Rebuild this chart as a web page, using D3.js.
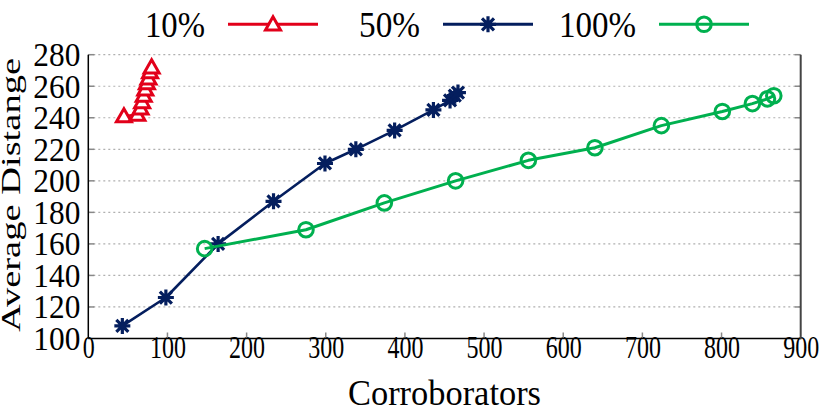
<!DOCTYPE html>
<html>
<head>
<meta charset="utf-8">
<script src="https://cdn.jsdelivr.net/npm/d3@7"></script>
<style>
  html, body { margin: 0; padding: 0; background: #fff; }
  svg { display: block; }
  text { font-family: "Liberation Serif", "DejaVu Serif", serif; fill: #000; }
</style>
</head>
<body>
<svg id="chart" width="830" height="407"></svg>
<script>
// ---- data ----
const xTicks = [0, 100, 200, 300, 400, 500, 600, 700, 800, 900];
const yTicks = [100, 120, 140, 160, 180, 200, 220, 240, 260, 280];
const seriesNames = ["10%", "50%", "100%"];
const series10 = [[45, 241], [62, 242], [66, 246], [68, 250], [70, 254], [72, 258], [74, 262], [76, 265], [78, 269], [80, 272]];
const series50 = [[43, 108], [98, 126], [164, 160], [234, 187], [299, 211], [338, 220], [387, 232], [436, 245], [457, 251], [463, 254], [467, 256]];
const series100 = [[147, 157], [275, 169], [374, 186], [464, 200], [556, 213], [640, 221], [724, 235], [801, 244], [839, 249], [858, 252], [866, 254]];
const xLabel = "Corroborators";
const yLabel = "Average Distange";

// ---- layout ----
const L = 88.3, R = 800.7, T = 54.7, B = 338.5;
const colors = ["#e2001a", "#041e5e", "#00b04f"];
const markers = ["triangle", "asterisk", "circle"];
const allSeries = [series10, series50, series100];

const svg = d3.select("#chart");
const x = d3.scaleLinear().domain([0, 900]).range([L, R]);
const y = d3.scaleLinear().domain([100, 280]).range([B, T]);

// grid lines
svg.append("g").selectAll("line")
  .data(yTicks.filter(v => v > 100))
  .join("line")
  .attr("x1", L).attr("x2", R)
  .attr("y1", d => y(d)).attr("y2", d => y(d))
  .attr("stroke", "#b0b0b0").attr("stroke-width", 1.2)
  .attr("stroke-dasharray", "2,3");

// axes
const yAxis = d3.axisLeft(y).tickValues(yTicks).tickSize(0).tickPadding(8);
const gy = svg.append("g").attr("transform", `translate(${L},0)`).call(yAxis);
gy.select(".domain").remove();
gy.selectAll("text").attr("font-size", 33).attr("dy", "0.33em")
  .style("font-family", '"Liberation Serif", serif')
  .attr("textLength", 47).attr("lengthAdjust", "spacingAndGlyphs");

const xAxis = d3.axisBottom(x).tickValues(xTicks).tickSize(0).tickPadding(0);
const gx = svg.append("g").attr("transform", `translate(0,${B})`).call(xAxis);
gx.select(".domain").remove();
gx.selectAll("text").attr("font-size", 31).attr("dy", 0).attr("y", 19)
  .style("font-family", '"Liberation Serif", serif')
  .each(function(d) {
    const n = String(d).length;
    d3.select(this).attr("textLength", n * 12).attr("lengthAdjust", "spacingAndGlyphs");
  });

// inward ticks
const tickG = svg.append("g").attr("stroke", "#888").attr("stroke-width", 1.5);
tickG.selectAll(".ty").data(yTicks.filter(v => v > 100)).join("line")
  .attr("x1", L).attr("x2", L + 6).attr("y1", d => y(d)).attr("y2", d => y(d));
tickG.selectAll(".tr").data(yTicks.filter(v => v > 100)).join("line")
  .attr("x1", R - 6).attr("x2", R).attr("y1", d => y(d)).attr("y2", d => y(d));
tickG.selectAll(".tx").data(xTicks.filter(v => v > 0 && v < 900)).join("line")
  .attr("x1", d => x(d)).attr("x2", d => x(d)).attr("y1", B).attr("y2", B - 6);

// border lines
svg.append("line").attr("x1", L).attr("x2", L).attr("y1", T).attr("y2", B)
  .attr("stroke", "#000").attr("stroke-width", 1.5);
svg.append("line").attr("x1", L).attr("x2", R).attr("y1", B).attr("y2", B)
  .attr("stroke", "#000").attr("stroke-width", 1.5);
svg.append("line").attr("x1", R).attr("x2", R).attr("y1", T).attr("y2", B + 0.75)
  .attr("stroke", "#444").attr("stroke-width", 2);

// marker drawing
function drawMarker(g, type, cx, cy, color) {
  if (type === "triangle") {
    const s = 7.5;
    g.append("path")
      .attr("d", `M${cx},${cy - s}L${cx + s},${cy + s * 0.75}L${cx - s},${cy + s * 0.75}Z`)
      .attr("fill", "#fff").attr("stroke", color).attr("stroke-width", 3)
      .attr("stroke-linejoin", "miter");
  } else if (type === "asterisk") {
    const s = 8, d = s * 0.75;
    g.append("path")
      .attr("d", `M${cx},${cy - s}V${cy + s}M${cx - s},${cy}H${cx + s}` +
                 `M${cx - d},${cy - d}L${cx + d},${cy + d}M${cx - d},${cy + d}L${cx + d},${cy - d}`)
      .attr("stroke", color).attr("stroke-width", 3.2).attr("fill", "none");
  } else {
    g.append("circle").attr("cx", cx).attr("cy", cy).attr("r", 7.3)
      .attr("fill", "none").attr("stroke", color).attr("stroke-width", 3);
  }
}

// series
const line = d3.line().x(d => x(d[0])).y(d => y(d[1]));
allSeries.forEach((data, i) => {
  const g = svg.append("g");
  g.append("path").datum(data).attr("d", line)
    .attr("fill", "none").attr("stroke", colors[i])
    .attr("stroke-width", i === 2 ? 3 : 2.6).attr("stroke-linejoin", "round");
  data.forEach(d => drawMarker(g, markers[i], x(d[0]), y(d[1]), colors[i]));
});

// legend
const legendTextEnd = [205, 420, 636];
const legendTextLen = [60, 61, 77];
const legendLineStart = [228, 443, 659];
const legendY = 24.3;
seriesNames.forEach((name, i) => {
  svg.append("text").attr("x", legendTextEnd[i]).attr("y", 37)
    .attr("text-anchor", "end").attr("font-size", 36)
    .attr("textLength", legendTextLen[i]).attr("lengthAdjust", "spacingAndGlyphs")
    .text(name);
  const g = svg.append("g");
  g.append("line").attr("x1", legendLineStart[i]).attr("x2", legendLineStart[i] + 90)
    .attr("y1", legendY).attr("y2", legendY)
    .attr("stroke", colors[i]).attr("stroke-width", 3);
  drawMarker(g, markers[i], legendLineStart[i] + 45, legendY, colors[i]);
});

// axis labels
svg.append("text").attr("x", (L + R) / 2).attr("y", 405)
  .attr("text-anchor", "middle").attr("font-size", 35)
  .attr("textLength", 193).attr("lengthAdjust", "spacingAndGlyphs")
  .text(xLabel);
svg.append("text").attr("transform", "translate(20,195) rotate(-90)")
  .attr("text-anchor", "middle").attr("font-size", 27)
  .attr("textLength", 274).attr("lengthAdjust", "spacingAndGlyphs")
  .text(yLabel);
</script>
</body>
</html>
